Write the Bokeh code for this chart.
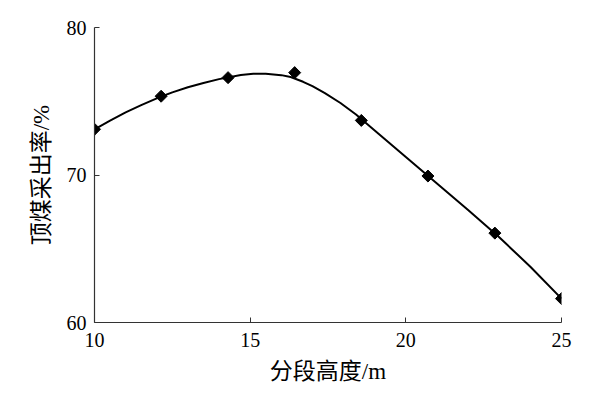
import numpy as np
from bokeh.plotting import figure
from bokeh.models import FixedTicker, Range1d
from bokeh.embed import file_html
from bokeh.resources import INLINE

# Measured points
height_m = [10, 12.14, 14.29, 16.43, 18.57, 20.71, 22.86, 25]
recovery = [73.1, 75.34, 76.6, 76.94, 73.7, 69.93, 66.06, 61.62]

# Smoothed curve
curve_x = [10, 10.5, 11, 11.5, 12, 12.5, 13, 13.5, 14, 14.7, 15.1, 15.5, 16,
           16.3, 16.7, 17, 17.4, 17.9, 18.4, 19, 20, 21, 22, 23, 24, 25]
curve_y = [73.1, 73.69, 74.25, 74.74, 75.2, 75.6, 75.95, 76.24, 76.5, 76.78,
           76.87, 76.87, 76.77, 76.64, 76.32, 76.02, 75.55, 74.88, 74.1,
           73.02, 71.22, 69.42, 67.62, 65.78, 63.78, 61.62]

x_ticks = [10, 15, 20, 25]
y_ticks = [60, 70, 80]

p = figure(width=588, height=386, output_backend="svg", toolbar_location=None,
           x_range=Range1d(10, 25), y_range=Range1d(60, 80),
           min_border_left=94, min_border_right=27, min_border_top=27,
           min_border_bottom=63)
p.outline_line_color = None
p.grid.visible = False
p.background_fill_color = "white"
p.border_fill_color = "white"

p.line(curve_x, curve_y, line_color="black", line_width=2)
p.scatter(height_m, recovery, marker="square", angle=np.pi / 4, size=8.5,
          fill_color="black", line_color="black")

serif = "Liberation Serif"
label_font = "Liberation Serif, Noto Sans CJK SC"

for ax in (p.xaxis[0], p.yaxis[0]):
    ax.axis_line_color = "#333333"
    ax.axis_line_width = 1.2
    ax.major_tick_line_color = "#333333"
    ax.major_tick_in = 5
    ax.major_tick_out = 0
    ax.minor_tick_line_color = None
    ax.major_label_text_font = serif
    ax.major_label_text_font_size = "20px"
    ax.major_label_text_color = "black"
    ax.axis_label_text_font = label_font
    ax.axis_label_text_font_size = "23px"
    ax.axis_label_text_font_style = "normal"
    ax.axis_label_text_color = "black"

p.xaxis.ticker = FixedTicker(ticks=x_ticks)
p.yaxis.ticker = FixedTicker(ticks=y_ticks)
p.xaxis.axis_label = "分段高度/m"
p.yaxis.axis_label = "顶煤采出率/%"
p.xaxis.major_label_standoff = 10
p.yaxis.major_label_standoff = 8
p.xaxis.axis_label_standoff = 9
p.yaxis.axis_label_standoff = 10

open("out.html", "w").write(file_html(p, INLINE))
